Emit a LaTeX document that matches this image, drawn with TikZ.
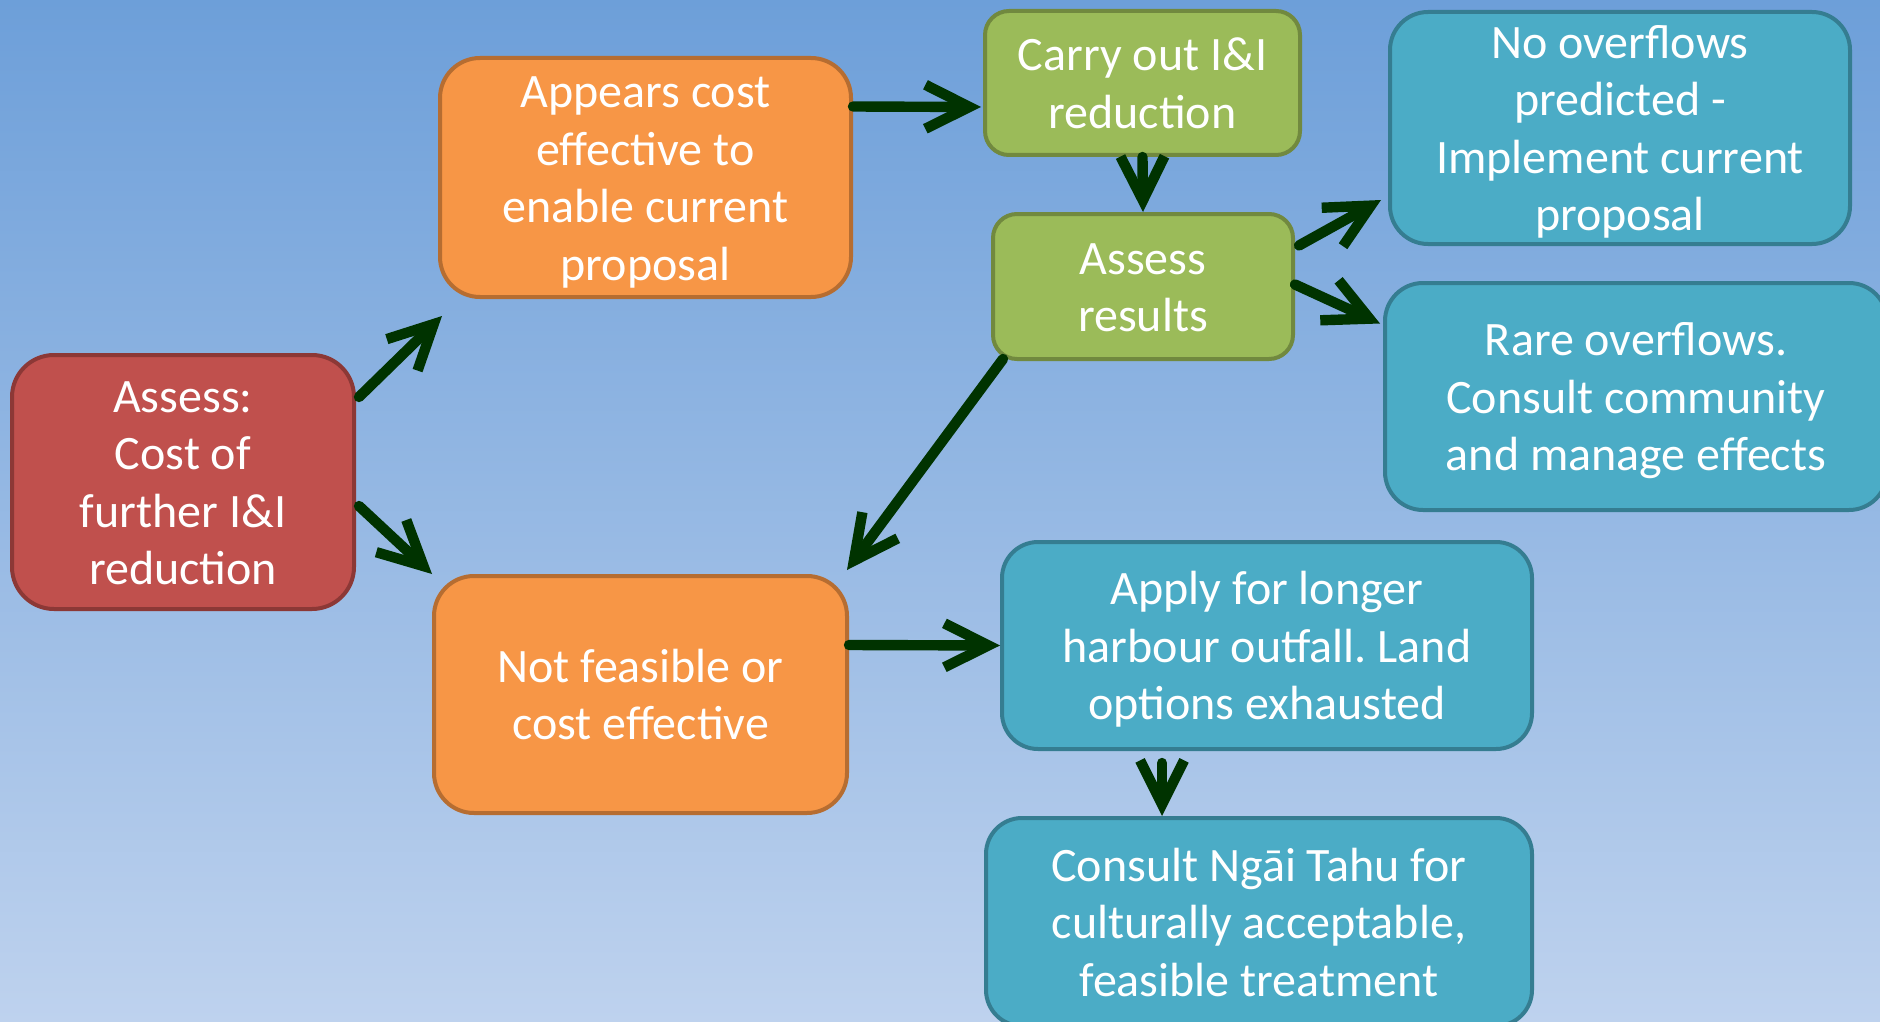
\documentclass[tikz,border=0pt]{standalone}
\usepackage{fontspec}
\setmainfont{Carlito}
\usetikzlibrary{arrows.meta}
\frenchspacing

\definecolor{bgtop}{RGB}{109,159,217}
\definecolor{bgbottom}{RGB}{190,210,238}
\definecolor{flowgreen}{RGB}{0,51,0}
\definecolor{redfill}{RGB}{192,80,77}
\definecolor{redline}{RGB}{140,56,54}
\definecolor{orangefill}{RGB}{247,150,70}
\definecolor{orangeline}{RGB}{182,109,49}
\definecolor{greenfill}{RGB}{155,187,89}
\definecolor{greenline}{RGB}{113,137,63}
\definecolor{bluefill}{RGB}{75,172,198}
\definecolor{blueline}{RGB}{53,125,145}

% strut for the first line of a box
\newcommand{\topstrut}{\rule{0pt}{22pt}}

\tikzset{
	box/.style={draw,line width=2pt,inner sep=0pt,text=white,align=center,
		font=\fontsize{24}{28.75}\selectfont,
		execute at end node={\rule[-5.5pt]{0pt}{5.5pt}}},
	redbox/.style={box,fill=redfill,draw=redline,rounded corners=21pt},
	orangebox/.style={box,fill=orangefill,draw=orangeline,rounded corners=20pt},
	greenbox/.style={box,fill=greenfill,draw=greenline,rounded corners=12pt},
	bluebox/.style={box,fill=bluefill,draw=blueline,rounded corners=19pt},
	flow/.style={draw=flowgreen,line width=5.2pt,line cap=round,line join=round,
		-{Straight Barb[length=22pt,width=22pt]}}
}

\begin{document}
\begin{tikzpicture}[x=0.5pt,y=-0.5pt]
	% background
	\useasboundingbox (0,0) rectangle (1880,1022);
	\clip (0,0) rectangle (1880,1022);
	\shade[top color=bgtop,bottom color=bgbottom] (0,0) rectangle (1880,1022);

	% boxes
	\node[redbox,minimum width=171pt,minimum height=127pt] (assess) at (183,482)
		{\topstrut Assess:\\Cost of\\further I\&I\\reduction};
	\node[orangebox,minimum width=205.5pt,minimum height=119.5pt] (appears) at (645.5,177.5)
		{\topstrut Appears cost\\effective to\\enable current\\proposal};
	\node[orangebox,minimum width=206.5pt,minimum height=118.5pt] (notfeasible) at (640.5,694.5)
		{\topstrut Not feasible or\\cost effective};
	\node[greenbox,minimum width=157.5pt,minimum height=72pt] (carryout) at (1142.5,83)
		{\topstrut Carry out I\&I\\reduction};
	\node[greenbox,minimum width=150pt,minimum height=72.5pt] (results) at (1143,286.5)
		{\topstrut Assess\\results};
	\node[bluebox,minimum width=230pt,minimum height=116pt] (nooverflows) at (1620,128)
		{\topstrut No overflows\\predicted -\\Implement current\\proposal};
	\node[bluebox,minimum width=251pt,minimum height=113.5pt] (rare) at (1636,396.5)
		{\topstrut Rare overflows.\\Consult community\\and manage effects};
	\node[bluebox,rounded corners=18pt,minimum width=265pt,minimum height=103.5pt] (apply) at (1267,645.5)
		{\topstrut Apply for longer\\harbour outfall. Land\\options exhausted};
	\node[bluebox,rounded corners=18pt,minimum width=273pt,minimum height=104pt] (ngaitahu) at (1259,922)
		{\topstrut Consult Ngāi Tahu for\\culturally acceptable,\\feasible treatment};

	% arrows
	\draw[flow] ([shift={(3,-85)}]assess.east) -- ([shift={(4,17)}]appears.south west);
	\draw[flow] ([shift={(3,24)}]assess.east) -- (notfeasible.north west);
	\draw[flow] ([shift={(0,-71)}]appears.east) -- ([shift={(-2,24)}]carryout.west);
	\draw[flow] (carryout.south) -- (results.north);
	\draw[flow] ([shift={(4,-41)}]results.east) -- ([shift={(-7,72)}]nooverflows.west);
	\draw[flow] ([shift={(0,-2)}]results.east) -- ([shift={(-3,-73)}]rare.west);
	\draw[flow] ([shift={(12,-2)}]results.south west) -- ([shift={(-2,-4)}]notfeasible.north east);
	\draw[flow] ([shift={(0,-49.5)}]notfeasible.east) -- (apply.west);
	\draw[flow] ([shift={(-105,12)}]apply.south) -- ([shift={(-97,0)}]ngaitahu.north);

\end{tikzpicture}
\end{document}
